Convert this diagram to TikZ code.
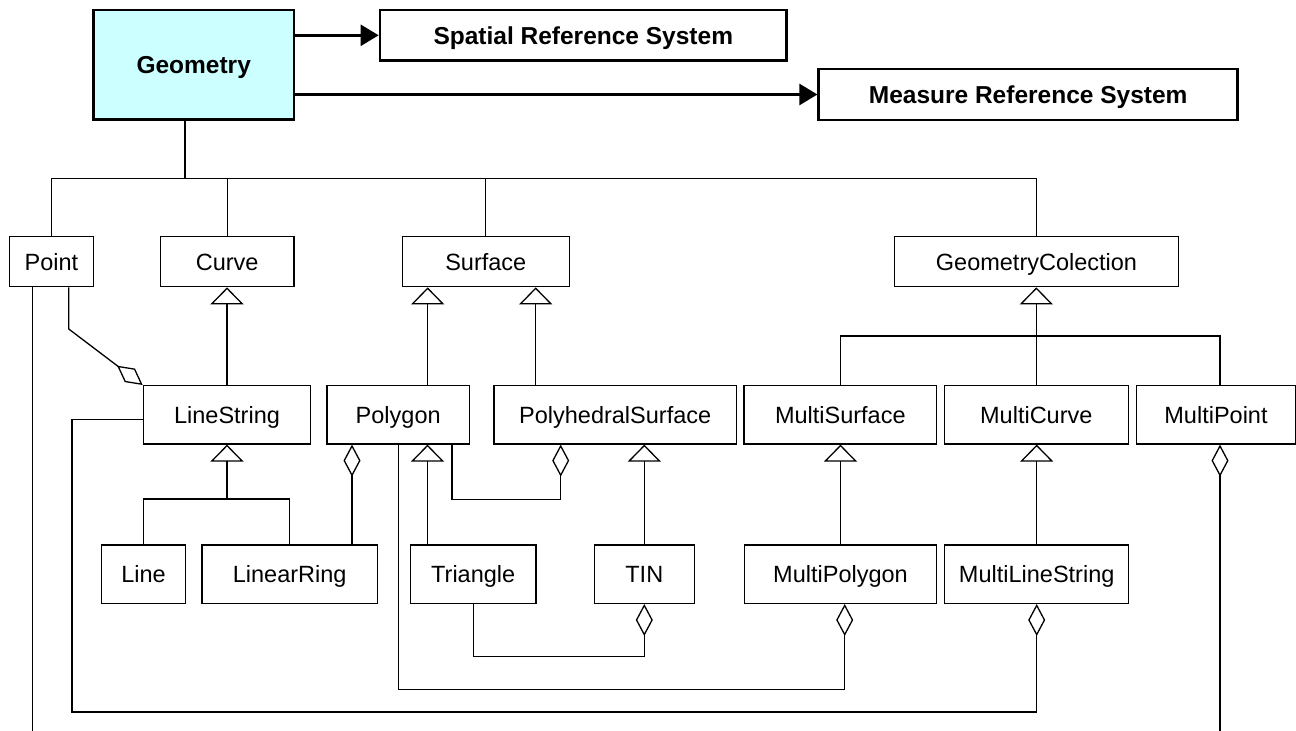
\documentclass[tikz,border=0pt]{standalone}
\usepackage{fontspec}
\setmainfont{Liberation Sans}
\usetikzlibrary{arrows.meta,calc}
\definecolor{geofill}{RGB}{204,255,255}
\begin{document}
\begin{tikzpicture}[x=1pt,y=-1pt,
  box/.style={draw=black, line width=1.3pt, inner sep=0pt, minimum height=50pt, text height=16.8pt, text depth=0pt, font=\fontsize{23.5}{28}\selectfont},
  tallbox/.style={box, minimum height=58.3pt},
  topbox/.style={draw=black, line width=2.6pt, inner sep=0pt, text height=17.5pt, text depth=0pt, font=\fontsize{24.5}{29}\selectfont\bfseries},
  conn/.style={line width=1.3pt},
  thickarrow/.style={line width=2.6pt, -{Triangle[length=18pt,width=21pt]}},
  inh/.style={conn, -{Triangle[open,length=17pt,width=33pt,fill=white]}},
  agg/.style={conn, -{Diamond[open,length=32pt,width=17pt,fill=white]}},
]
\fill[white] (0,0) rectangle (1296,731);
\useasboundingbox (0,0) rectangle (1296,731);

% top
\node[topbox, fill=geofill, minimum width=200.7pt, minimum height=109.3pt] (Geometry) at (193.7,64.7) {Geometry};
\node[topbox, minimum width=406.7pt, minimum height=50.7pt] (SRS) at (583.3,35.3) {Spatial Reference System};
\node[topbox, minimum width=419pt, minimum height=51pt] (MRS) at (1028.2,94.5) {Measure Reference System};

% row 1
\node[box, minimum width=84.4pt] (Point) at (51.5,261.7) {Point};
\node[box, minimum width=133.7pt] (Curve) at (227.2,261.7) {Curve};
\node[box, minimum width=167pt] (Surface) at (485.8,261.7) {Surface};
\node[box, minimum width=284.4pt] (GC) at (1036.5,261.7) {GeometryColection};

% row 2
\node[tallbox, minimum width=167.4pt] (LineString) at (227,414.8) {LineString};
\node[tallbox, minimum width=142.3pt] (Polygon) at (398.2,414.8) {Polygon};
\node[tallbox, minimum width=242.3pt] (PolySurf) at (615.2,414.8) {PolyhedralSurface};
\node[tallbox, minimum width=192.7pt] (MultiSurface) at (840.3,414.8) {MultiSurface};
\node[tallbox, minimum width=184pt] (MultiCurve) at (1036.3,414.8) {MultiCurve};
\node[tallbox, minimum width=158.6pt] (MultiPoint) at (1216,414.8) {MultiPoint};

% row 3
\node[tallbox, minimum width=83.6pt] (Line) at (143.5,574.2) {Line};
\node[tallbox, minimum width=175.3pt] (LinearRing) at (289.7,574.2) {LinearRing};
\node[tallbox, minimum width=125.7pt] (Triangle) at (473.2,574.2) {Triangle};
\node[tallbox, minimum width=100pt] (TIN) at (644.3,574.2) {TIN};
\node[tallbox, minimum width=192.4pt] (MultiPolygon) at (840.5,574.2) {MultiPolygon};
\node[tallbox, minimum width=184pt] (MultiLineString) at (1036.7,574.2) {MultiLineString};

% coordinates
\coordinate (gbus) at (185,178.3);
\coordinate (cbus) at (1036.5,336);
\coordinate (lsbus) at (227,499);
\coordinate (pbus) at (398.2,689.7);
\coordinate (lbus) at (72,712);
\coordinate (ptend) at (32.3,731);
\coordinate (mpend) at (1220,731);

% top arrows
\draw[thickarrow] (Geometry.east |- SRS.west) -- (SRS.west);
\draw[thickarrow] (Geometry.east |- MRS.west) -- (MRS.west);

% Geometry tree
\draw[conn] ([xshift=-8.7pt]Geometry.south) -- (gbus);
\draw[conn] (Point.north) |- (GC.north |- gbus) -- (GC.north);
\draw[conn] (Curve.north) -- (Curve.north |- gbus);
\draw[conn] (Surface.north) -- (Surface.north |- gbus);

% generalizations
\draw[inh] (LineString.north) -- (LineString.north |- Curve.south);
\draw[inh] ([xshift=29.5pt]Polygon.north) -- ([xshift=29.5pt]Polygon.north |- Surface.south);
\draw[inh] ([xshift=-79.5pt]PolySurf.north) -- ([xshift=-79.5pt]PolySurf.north |- Surface.south);
\draw[inh] (MultiCurve.north) -- (MultiCurve.north |- GC.south);
\draw[conn] (MultiSurface.north) |- (cbus) -| ([xshift=4pt]MultiPoint.north);
\draw[conn] (Line.north) |- (lsbus) -| (LinearRing.north);
\draw[inh] (lsbus) -- (LineString.south);
\draw[inh] ([xshift=-45.7pt]Triangle.north) -- ([xshift=-45.7pt]Triangle.north |- Polygon.south);
\draw[inh] (TIN.north) -- (TIN.north |- PolySurf.south);
\draw[inh] (MultiPolygon.north) -- (MultiPolygon.north |- MultiSurface.south);
\draw[inh] (MultiLineString.north) -- (MultiLineString.north |- MultiCurve.south);

% aggregations
\draw[agg] ([xshift=17.2pt]Point.south) -- ++(0,41.6) -- (LineString.north west);
\draw[conn] ([xshift=-19.2pt]Point.south) -- (ptend);
\draw[agg] (mpend) -- ([xshift=4pt]MultiPoint.south);
\draw[agg] ([xshift=62.3pt]LinearRing.north) -- ([xshift=62.3pt]LinearRing.north |- Polygon.south);
\draw[agg] ([xshift=53.8pt]Polygon.south) -- ++(0,55) -| ([xshift=-54.5pt]PolySurf.south);
\draw[agg] (Triangle.south) -- ++(0,52.7) -| (TIN.south);
\draw[agg] (Polygon.south) -- (pbus) -| ([xshift=4.2pt]MultiPolygon.south);
\draw[agg] ([yshift=-4.5pt]LineString.west) -| (lbus) -| (MultiLineString.south);
\end{tikzpicture}
\end{document}
